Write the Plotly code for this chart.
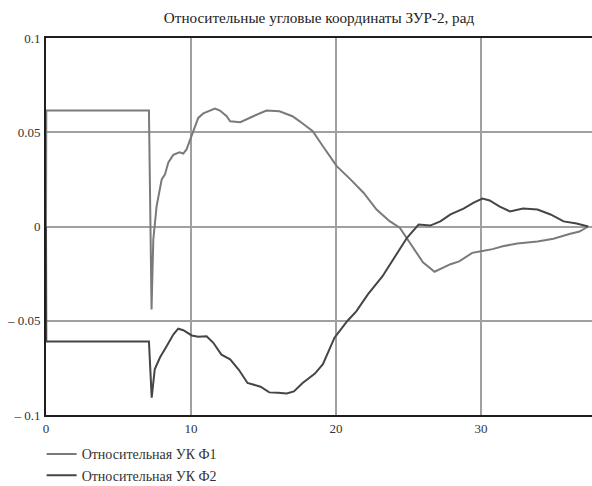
import plotly.graph_objects as go

title_text = "Относительные угловые координаты ЗУР-2, рад"
names = ["Относительная УК Ф1", "Относительная УК Ф2"]

t1 = [0, 0.02, 7.1, 7.28, 7.4, 7.63, 7.98, 8.2, 8.44, 8.78, 9.2, 9.47, 9.7, 9.93,
      10.16, 10.5, 10.85, 11.3, 11.65, 12.0, 12.46, 12.7, 13.4, 14.3, 15.2, 16.1,
      17.0, 17.5, 18.4, 19.1, 20.05, 21.0, 21.9, 22.8, 23.7, 24.4, 25.1, 26.0, 26.8,
      27.9, 28.5, 29.4, 30.1, 30.8, 31.5, 32.5, 33.9, 35.0, 36.1, 36.8, 37.4]
f1 = [0, 0.0615, 0.0615, -0.044, -0.007, 0.0108, 0.025, 0.0275, 0.034, 0.038, 0.0394,
      0.0387, 0.041, 0.046, 0.0514, 0.0576, 0.060, 0.0617, 0.0626, 0.0615, 0.0585,
      0.0558, 0.0553, 0.0585, 0.0615, 0.0611, 0.0585, 0.0558, 0.0505, 0.0426, 0.032,
      0.025, 0.0179, 0.009, 0.0028, -0.0006, -0.0086, -0.019, -0.024, -0.020, -0.0185,
      -0.014, -0.013, -0.012, -0.0105, -0.009, -0.008, -0.0065, -0.004, -0.0027, 0.0]

t2 = [0, 0.02, 7.1, 7.29, 7.5, 7.86, 8.32, 8.78, 9.12, 9.47, 10.05, 10.5, 11.08, 11.54,
      12.1, 12.7, 13.3, 13.9, 14.8, 15.4, 16.0, 16.6, 17.1, 17.7, 18.55, 19.1, 19.9,
      20.8, 21.4, 22.2, 23.2, 24.2, 24.9, 25.7, 26.5, 27.2, 27.9, 28.8, 29.5, 30.1,
      30.6, 31.3, 32.0, 32.9, 33.9, 34.8, 35.7, 36.6, 37.4]
f2 = [0, -0.061, -0.061, -0.0908, -0.0758, -0.0695, -0.0635, -0.0573, -0.0542, -0.055,
      -0.0578, -0.0585, -0.0582, -0.0617, -0.068, -0.0705, -0.076, -0.083, -0.085,
      -0.088, -0.0882, -0.0886, -0.0875, -0.083, -0.078, -0.073, -0.059, -0.050, -0.045,
      -0.036, -0.0265, -0.014, -0.006, 0.001, 0.0005, 0.0027, 0.0064, 0.0095, 0.0127,
      0.0148, 0.0138, 0.0105, 0.008, 0.0095, 0.009, 0.0064, 0.0027, 0.0016, 0.0]

x_ticks = [0, 10, 20, 30]
y_ticks = [0.1, 0.05, 0, -0.05, -0.1]
y_tick_labels = ["0.1", "0.05", "0", "– 0.05", "– 0.1"]

font = "Liberation Serif, Tinos, DejaVu Serif, serif"

fig = go.Figure()
fig.add_trace(go.Scatter(x=t1, y=f1, mode="lines", name=names[0],
                         line=dict(color="#7a7a7a", width=2)))
fig.add_trace(go.Scatter(x=t2, y=f2, mode="lines", name=names[1],
                         line=dict(color="#454545", width=2)))

fig.update_layout(
    width=592, height=486,
    margin=dict(l=46, r=0, t=38, b=71, autoexpand=False),
    paper_bgcolor="white", plot_bgcolor="white",
    font=dict(family=font, size=13, color="#222"),
    title=dict(text=title_text, x=0.5, xref="paper", xanchor="center",
               y=1 - 18 / 486, yanchor="middle", automargin=False,
               font=dict(family=font, size=15.2, color="#222")),
    showlegend=True,
    legend=dict(x=-0.008, y=-0.062, xanchor="left", yanchor="top",
                font=dict(family=font, size=14, color="#333"),
                bgcolor="rgba(0,0,0,0)", tracegroupgap=0, itemwidth=30),
)
fig.update_xaxes(range=[0, 37.66], tickvals=x_ticks, ticktext=[str(v) for v in x_ticks],
                 showgrid=True, gridcolor="#a0a0a0", gridwidth=2, automargin=False,
                 showline=True, linecolor="#1e1e1e", linewidth=2, mirror=True,
                 zeroline=False, ticks="", tickfont=dict(family=font, size=13, color="#333"))
fig.update_yaxes(range=[-0.1, 0.1], tickvals=y_ticks, ticktext=y_tick_labels,
                 showgrid=True, gridcolor="#a0a0a0", gridwidth=2, automargin=False,
                 showline=True, linecolor="#1e1e1e", linewidth=2, mirror=False,
                 zeroline=False, ticks="", ticklabelstandoff=1,
                 tickfont=dict(family=font, size=13, color="#333"))

fig.write_html("out.html", config={"displayModeBar": False},
               post_script="document.body.style.margin='0';document.body.style.padding='0';")
